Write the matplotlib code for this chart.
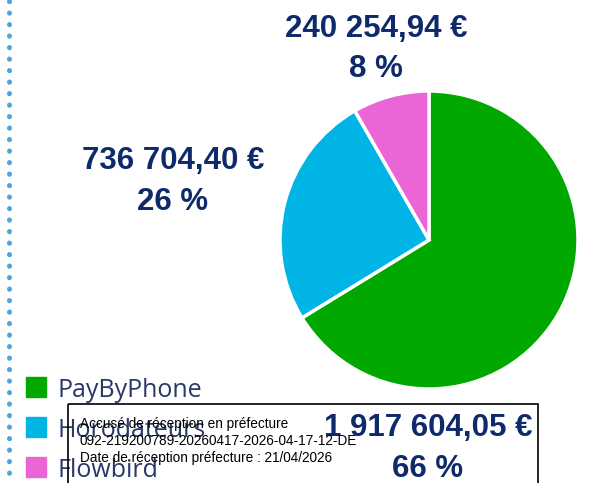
import matplotlib.pyplot as plt
from matplotlib.patches import Rectangle

labels = ["PayByPhone", "Horodateurs", "Flowbird"]
values = [1917604.05, 736704.40, 240254.94]
pcts = [66, 26, 8]
colors = ["#00a800", "#00b4e6", "#ea66d6"]

navy = "#0e2a6a"


def fmt_eur(v):
    s = f"{v:,.2f}"
    return s.replace(",", " ").replace(".", ",") + " €"


fig = plt.figure(figsize=(5.92, 4.83), dpi=100)
W, H = 592, 483

# pie, centre ~ (429, 240), radius ~149 px
r = 149
ax = fig.add_axes([(429 - r) / W, 1 - (240 + r) / H, 2 * r / W, 2 * r / H])
ax.pie(values, colors=colors, startangle=90, counterclock=False,
       wedgeprops=dict(edgecolor="white", linewidth=2.5))
ax.set_xlim(-1, 1)
ax.set_ylim(-1, 1)
ax.set_aspect("auto")
ax.axis("off")

# overlay axes in pixel coordinates
ov = fig.add_axes([0, 0, 1, 1], zorder=5)
ov.set_xlim(0, W)
ov.set_ylim(H, 0)
ov.axis("off")

# dotted line on the left
ov.plot([9, 9], [1, 482], color="#4aa6de", linestyle=(0, (0.05, 2.25)),
        linewidth=3.6, dash_capstyle="round")

# value labels (x centre, baseline of amount, baseline of percent)
lab_pos = [(428, 436, 477), (173, 169, 210), (376, 37, 77)]
for v, p, (x, y1, y2) in zip(values, pcts, lab_pos):
    ov.text(x, y1, fmt_eur(v), ha="center", va="baseline", fontsize=22.5,
            fontweight="bold", color=navy, family="Liberation Sans")
    ov.text(x, y2, f"{p} %", ha="center", va="baseline", fontsize=22.5,
            fontweight="bold", color=navy, family="Liberation Sans")

# legend
for i, (lab, c) in enumerate(zip(labels, colors)):
    y = 387 + i * 40
    ov.add_patch(Rectangle((26, y - 10), 20, 20, color=c))
    ov.text(57, y + 10, lab, ha="left", va="baseline", fontsize=18,
            color="#2a3868", family="Open Sans")

# reception stamp
ov.add_patch(Rectangle((68, 404), 470, 90, facecolor="none",
                       edgecolor="black", linewidth=1.2, zorder=6))
stamp = ["Accusé de réception en préfecture",
         "092-219200789-20260417-2026-04-17-12-DE",
         "Date de réception préfecture : 21/04/2026"]
for i, line in enumerate(stamp):
    ov.text(80, 424 + i * 17, line, ha="left", va="center", fontsize=9.8,
            color="black", family="Liberation Sans", zorder=7)

fig.savefig("out.png", dpi=100)
